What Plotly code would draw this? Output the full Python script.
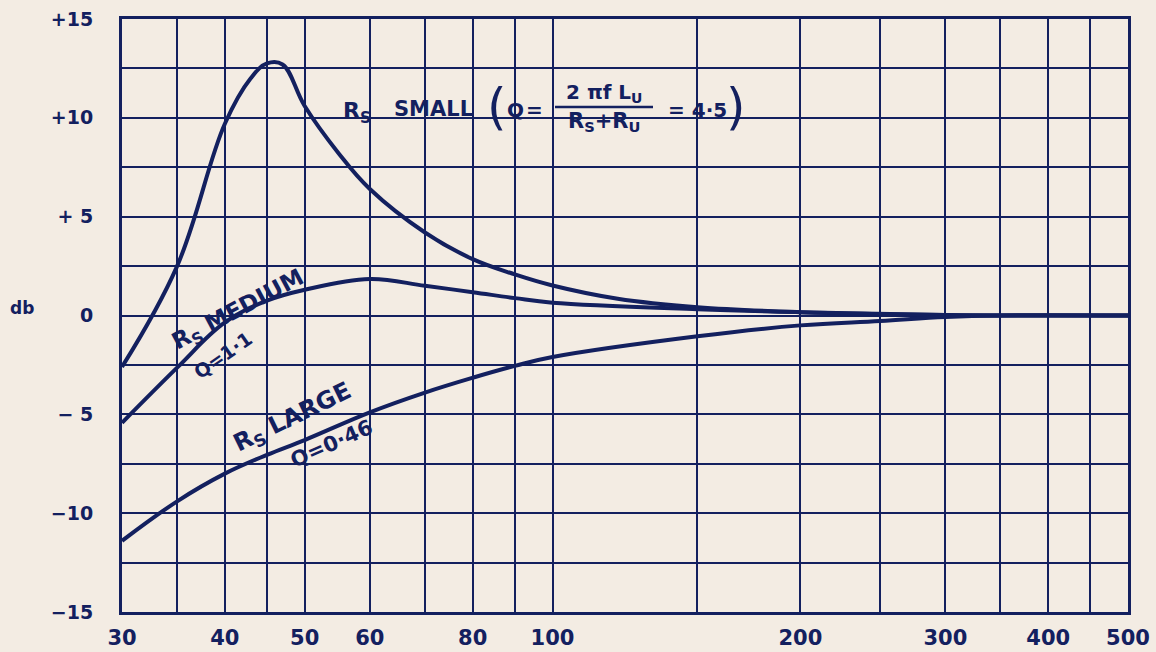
import numpy as np
import plotly.graph_objects as go

# ---------------- data ----------------
freq_small = [30, 35, 40, 43, 45, 47, 50, 55, 60, 70, 80, 90, 100, 120, 150, 200, 300, 500]
db_small = [-2.6, 2.5, 9.7, 12.0, 12.75, 12.7, 10.6, 8.2, 6.4, 4.2, 2.85, 2.08, 1.52, 0.85, 0.42, 0.17, 0.03, 0.0]

freq_medium = [30, 35, 40, 45, 50, 60, 70, 80, 90, 100, 150, 200, 300, 500]
db_medium = [-5.43, -2.64, -0.35, 0.75, 1.3, 1.85, 1.5, 1.18, 0.88, 0.65, 0.32, 0.17, 0.03, 0.0]

freq_large = [30, 35, 40, 45, 50, 60, 70, 80, 90, 100, 150, 200, 250, 300, 350, 500]
db_large = [-11.4, -9.4, -8.0, -7.05, -6.3, -4.9, -3.9, -3.15, -2.55, -2.1, -1.05, -0.5, -0.28, -0.08, 0.0, 0.0]

x_grid = [30, 35, 40, 45, 50, 60, 70, 80, 90, 100, 150, 200, 250, 300, 350, 400, 450, 500]
x_labels = ["30", "", "40", "", "50", "60", "", "80", "", "100", "", "200", "", "300", "", "400", "", "500"]
y_grid = [-15, -12.5, -10, -7.5, -5, -2.5, 0, 2.5, 5, 7.5, 10, 12.5, 15]
y_labels = ["−15", "", "−10", "", "− 5", "", "0", "", "+ 5", "", "+10", "", "+15"]

# ---------------- style ----------------
INK = "#13205f"
BG = "#f3ece3"
FONT = "DejaVu Sans"
L, R, T, B = 122, 1128, 19, 612


def ax(px):
    return (px - L) / (R - L)


def ay(py):
    return (B - py) / (B - T)


fig = go.Figure()
for xs, ys in [(freq_small, db_small), (freq_medium, db_medium), (freq_large, db_large)]:
    fig.add_trace(go.Scatter(x=xs, y=ys, mode="lines",
                             line=dict(color=INK, width=4, shape="spline", smoothing=1.1),
                             showlegend=False, hoverinfo="skip"))

fig.update_layout(
    width=1156, height=652,
    margin=dict(l=L, r=1156 - R, t=T, b=652 - B, autoexpand=False),
    paper_bgcolor=BG, plot_bgcolor=BG,
    showlegend=False,
)
fig.update_xaxes(
    type="log", range=[np.log10(30), np.log10(500)],
    tickmode="array", tickvals=x_grid, ticktext=x_labels,
    showgrid=True, gridcolor=INK, gridwidth=2,
    showline=True, mirror=True, linecolor=INK, linewidth=3,
    zeroline=False, ticks="", ticklabelstandoff=5, automargin=False,
    tickfont=dict(family=FONT, size=21, color=INK, weight="bold"),
)
fig.update_yaxes(
    range=[-15, 15],
    tickmode="array", tickvals=y_grid, ticktext=y_labels,
    showgrid=True, gridcolor=INK, gridwidth=2,
    showline=True, mirror=True, linecolor=INK, linewidth=3,
    zeroline=False, ticks="", ticklabelstandoff=22, automargin=False,
    tickfont=dict(family=FONT, size=19, color=INK, weight="bold"),
)

# mask behind the formula label
fig.add_shape(type="rect", xref="paper", yref="paper", layer="between",
              x0=ax(334), x1=ax(748), y0=ay(136), y1=ay(82),
              fillcolor=BG, line=dict(width=0))
# fraction bar
fig.add_shape(type="line", xref="paper", yref="paper",
              x0=ax(555), x1=ax(653), y0=ay(107), y1=ay(107),
              line=dict(color=INK, width=2.5))


def label(text, px, py, size=20, angle=0, weight="bold", bg=None):
    fig.add_annotation(text=text, xref="paper", yref="paper", x=ax(px), y=ay(py),
                       xanchor="center", yanchor="middle", showarrow=False,
                       textangle=angle,
                       font=dict(family=FONT, size=size, color=INK, weight=weight),
                       bgcolor=bg, borderpad=0)


label("R<sub>S</sub>", 357, 112, 22)
label("SMALL", 433, 109, 21)
label("(", 497, 107, 50, weight="normal")
label("Q", 515, 110, 20)
label("=", 534, 110, 20)
label("2 πf L<sub>U</sub>", 604, 93, 20)
label("R<sub>S</sub>+R<sub>U</sub>", 604, 122, 21)
label("= 4·5", 697, 110, 20)
label(")", 736, 107, 50, weight="normal")

label("R<sub>S</sub> MEDIUM", 238, 311, 23, angle=-28)
label("Q=1·1", 223, 355, 19, angle=-35)
label("R<sub>S</sub> LARGE", 292, 418, 24, angle=-26)
label("Q=0·46", 331, 444, 21, angle=-24)

fig.add_annotation(text="db", xref="paper", yref="paper", x=ax(22), y=ay(308),
                   xanchor="center", yanchor="middle", showarrow=False,
                   font=dict(family=FONT, size=17, color=INK, weight="bold"))

fig.write_html("out.html")
